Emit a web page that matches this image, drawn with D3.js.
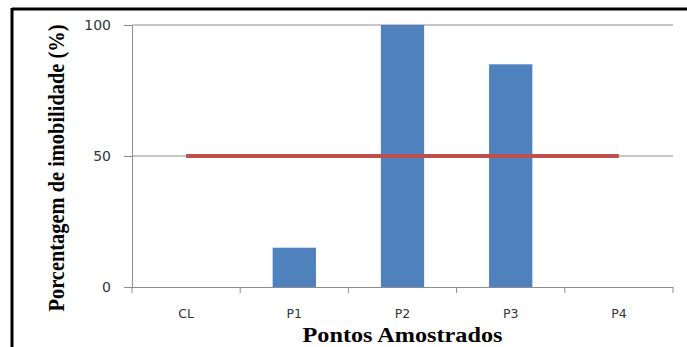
<!DOCTYPE html>
<html><head><meta charset="utf-8">
<script src="https://cdn.jsdelivr.net/npm/d3@7"></script>
<style>html,body{margin:0;padding:0;background:#fff;overflow:hidden}</style>
</head><body>
<svg id="c" width="687" height="347"></svg>
<script>
const categories = ["CL", "P1", "P2", "P3", "P4"];
const immobility = [0, 15, 100, 85, 0];
const limitLine = [50, 50, 50, 50, 50];
const yTicks = [0, 50, 100];
const xTitle = "Pontos Amostrados";
const yTitle = "Porcentagem de imobilidade (%)";

const svg = d3.select("#c");
const L = 132, R = 673, T = 25, B = 287;

// outer frame (top and left visible)
svg.append("line").attr("x1", 12).attr("x2", 687).attr("y1", 9).attr("y2", 9).attr("stroke", "#000").attr("stroke-width", 3);
svg.append("line").attr("x1", 12).attr("x2", 12).attr("y1", 8).attr("y2", 347).attr("stroke", "#000").attr("stroke-width", 3);

const x = d3.scaleBand().domain(categories).range([L, R]).paddingInner(0.6).paddingOuter(0.3);
const xb = d3.scaleBand().domain(categories).range([L, R]).padding(0);
const y = d3.scaleLinear().domain([0, 100]).range([B, T]);

// y axis
const yAxis = d3.axisLeft(y).tickValues(yTicks).tickSize(8).tickPadding(13).tickFormat(d3.format("d"));
const gy = svg.append("g").attr("transform", `translate(${L},0)`).call(yAxis);
gy.select(".domain").attr("stroke", "#8c8c8c");
gy.selectAll(".tick line").attr("stroke", "#8c8c8c");
gy.selectAll(".tick text").attr("fill", "#333").style("font-family", "DejaVu Sans, Verdana, sans-serif").style("font-size", "14px");
// gridlines
svg.append("g").selectAll("line").data(yTicks.filter(d => d > 0)).join("line")
  .attr("x1", L).attr("x2", R).attr("y1", d => y(d)).attr("y2", d => y(d))
  .attr("stroke", "#8c8c8c").attr("stroke-width", 1);

// bars
svg.append("g").selectAll("rect").data(categories.map((c, i) => ({c, v: immobility[i]}))).join("rect")
  .attr("x", d => x(d.c)).attr("width", x.bandwidth())
  .attr("y", d => y(d.v)).attr("height", d => B - y(d.v))
  .attr("fill", "#4F81BD");

// x axis
const xAxis = d3.axisBottom(xb).tickSize(0).tickPadding(22);
const gx = svg.append("g").attr("transform", `translate(0,${B})`).call(xAxis);
gx.select(".domain").remove();
gx.selectAll(".tick text").attr("fill", "#333").style("font-family", "DejaVu Sans, Verdana, sans-serif").style("font-size", "12.5px");
svg.append("line").attr("x1", L).attr("x2", R).attr("y1", B + 0.5).attr("y2", B + 0.5).attr("stroke", "#8c8c8c");
svg.append("g").selectAll("line").data(categories).join("line")
  .attr("x1", d => xb(d) + xb.bandwidth()).attr("x2", d => xb(d) + xb.bandwidth())
  .attr("y1", B).attr("y2", B + 6).attr("stroke", "#8c8c8c");
svg.append("line").attr("x1", L).attr("x2", L).attr("y1", B).attr("y2", B + 6).attr("stroke", "#8c8c8c");

// red line
const line = d3.line().x((d, i) => xb(categories[i]) + xb.bandwidth() / 2).y(d => y(d));
svg.append("path").datum(limitLine).attr("d", line).attr("fill", "none")
  .attr("stroke", "#C0504D").attr("stroke-width", 4);

// titles
svg.append("text").attr("x", (L + R) / 2).attr("y", 342).attr("text-anchor", "middle")
  .style("font-family", "Liberation Serif, Times New Roman, serif").style("font-weight", "bold").style("font-size", "20px")
  .attr("textLength", 200).attr("lengthAdjust", "spacingAndGlyphs").text(xTitle);
svg.append("text").attr("transform", "translate(64,168) rotate(-90)").attr("text-anchor", "middle")
  .style("font-family", "Liberation Serif, Times New Roman, serif").style("font-weight", "bold").style("font-size", "23px")
  .attr("textLength", 287).attr("lengthAdjust", "spacingAndGlyphs").text(yTitle);
</script>
</body></html>
